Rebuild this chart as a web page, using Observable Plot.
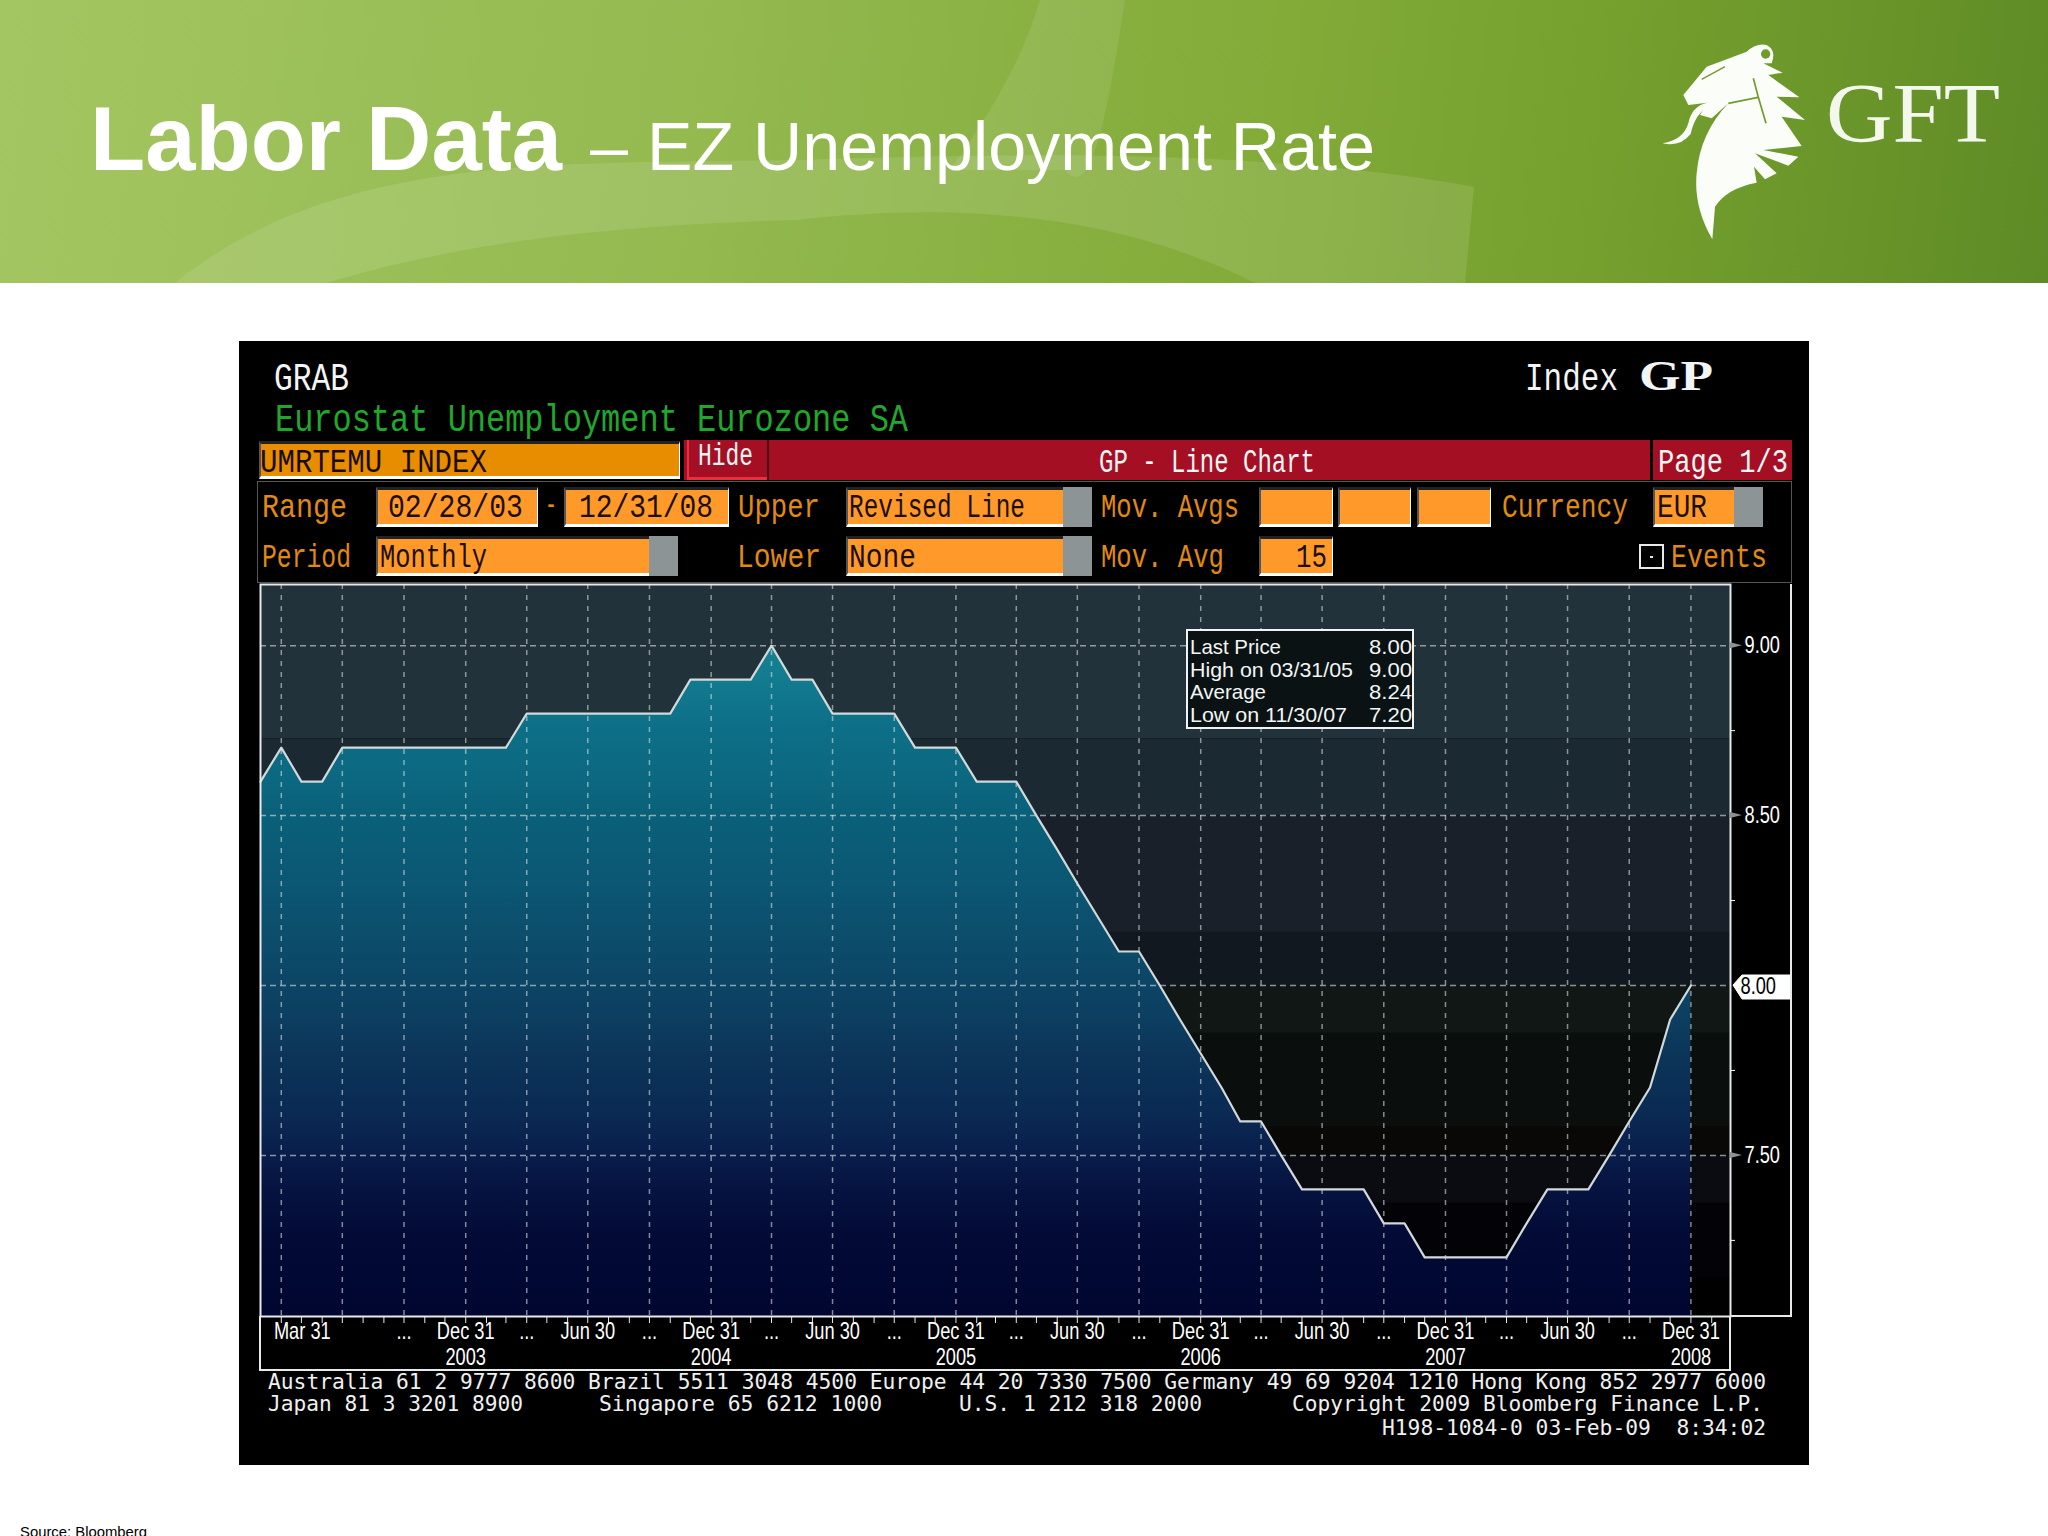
<!DOCTYPE html>
<html><head><meta charset="utf-8">
<script src="https://cdn.jsdelivr.net/npm/d3@7"></script>
<script src="https://cdn.jsdelivr.net/npm/@observablehq/plot@0.6"></script>
<style>
html,body{margin:0;padding:0;background:#fff;width:2048px;height:1536px;overflow:hidden}
#page{position:relative;width:2048px;height:1536px;overflow:hidden}
.box,.lbl{position:absolute;box-sizing:border-box}
.lbl{white-space:pre;transform-origin:0 0}
#chart{position:absolute;left:239px;top:341px}
#chart svg{display:block}
</style></head><body><div id="page"></div>
<script>
// ---- chart data ----
const startMonth = "2003-02";
const unemployment = [8.6,8.7,8.6,8.6,8.7,8.7,8.7,8.7,8.7,8.7,8.7,8.7,8.7,8.8,8.8,8.8,8.8,8.8,8.8,8.8,8.8,8.9,8.9,8.9,8.9,9.0,8.9,8.9,8.8,8.8,8.8,8.8,8.7,8.7,8.7,8.6,8.6,8.6,8.5,8.4,8.3,8.2,8.1,8.1,8.0,7.9,7.8,7.7,7.6,7.6,7.5,7.4,7.4,7.4,7.4,7.3,7.3,7.2,7.2,7.2,7.2,7.2,7.3,7.4,7.4,7.4,7.5,7.6,7.7,7.9,8.0];
const yDomain = [7.026,9.18];
const xEndMonth = "2009-02";
const majorY = [9,8.5,7.5];
const minorY = [8.75,8.25,7.75,7.25];
const lastValue = 8;
const tickLabelMonths = ["2003-09","2003-12","2004-03","2004-06","2004-09","2004-12","2005-03","2005-06","2005-09","2005-12","2006-03","2006-06","2006-09","2006-12","2007-03","2007-06","2007-09","2007-12","2008-03","2008-06","2008-09","2008-12"];
const tickLabels = ["...","Dec 31","...","Jun 30","...","Dec 31","...","Jun 30","...","Dec 31","...","Jun 30","...","Dec 31","...","Jun 30","...","Dec 31","...","Jun 30","...","Dec 31"];
const firstLabel = "Mar 31", firstLabelMonth = "2003-03";
const yearLabels = ["2003","2004","2005","2006","2007","2008"];
// stepped colour bands: upper/lower bound in rate units
const bgTop  = [9.18,8.726,8.5,8.156,8.0,7.859,7.583,7.5,7.359,7.138];
const bgBot  = [8.726,8.5,8.156,8.0,7.859,7.583,7.5,7.359,7.138,7.026];
const bgFill = ["#22323a","#1b2932","#19202a","#12181f","#101715","#0a0f0e","#090807","#0b0b12","#020207","#000000"];
const areaTop  = [9.0,8.9,8.77,8.59,8.5,8.3,8.15,8.01,7.9,7.8,7.62,7.51,7.4,7.25,7.026];
const areaFill = ["#178292","#127b90","#0d7088","#0b677f","#0a6079","#0b5774","#0c4e6c","#0c4565","#0c3e60","#0c3559","#0a2a53","#091e4c","#061340","#020a35","#000630"];
const gridColor = "#d8dedf";
const monthEnd = m => { const [y,mo] = m.split("-").map(Number); return new Date(Date.UTC(y,mo,0)); };
const addMonths = (m,i) => { const [y,mo] = m.split("-").map(Number); return new Date(Date.UTC(y,mo+i,0)); };
const rows = unemployment.map((value,i)=>({date:addMonths(startMonth,i),value}));
const allMonths = d3.range(73).map(i=>addMonths(startMonth,i));
const quarterEnds = allMonths.filter(d=>(d.getUTCMonth()+1)%3===0);
const yearEnds = allMonths.filter(d=>d.getUTCMonth()===11);
const yBase = yDomain[0];

const bands = bgTop.map((t,i)=>({t,b:bgBot[i],f:bgFill[i]}));

function areaGradient(index,{y}){
  const defs = d3.create("svg:defs");
  const g = defs.append("linearGradient").attr("id","areaBands").attr("gradientUnits","userSpaceOnUse")
    .attr("x1",0).attr("x2",0).attr("y1",y(areaTop[0])).attr("y2",y(yBase));
  const off = v => (areaTop[0]-v)/(areaTop[0]-yBase);
  areaTop.forEach((v,i)=>{
    g.append("stop").attr("offset",off(v)).attr("stop-color",areaFill[i]);
  });
  return defs.node();
}
function rightDecor(index,{y},values,{width,height,marginRight,marginBottom,marginLeft}){
  const g = d3.create("svg:g");
  const xr = width-marginRight;
  majorY.forEach(v=>{
    g.append("path").attr("fill","#8d9192")
     .attr("d",`M${xr},${y(v)-3}L${xr+12},${y(v)}L${xr},${y(v)+3}Z`);
  });
  const ly = y(lastValue);
  g.append("path").attr("fill","#fff").attr("stroke","#fff")
   .attr("d",`M${xr+3},${ly}L${xr+12},${ly-10}H${xr+60}V${ly+14}H${xr+12}Z`);
  const base = height-marginBottom;
  g.append("path").attr("fill","none").attr("stroke","#e6eaea").attr("stroke-width",2)
   .attr("d",`M${xr},${base}V${base+54}H${marginLeft}V${base}M${xr},${base}H${xr+61}V${base-732}`);
  return g.node();
}

const narrow = '"Liberation Sans",sans-serif';
const chart = Plot.plot({
  width:1570,height:1124,marginLeft:21,marginRight:79,marginTop:243,marginBottom:149,
  style:{background:"#000",color:"#fff",fontFamily:narrow,overflow:"visible"},
  x:{type:"utc",domain:[monthEnd(startMonth),monthEnd(xEndMonth)]},
  y:{domain:yDomain},
  marks:[
    areaGradient,
    Plot.rectY(bands,{x1:monthEnd(startMonth),x2:monthEnd(xEndMonth),y1:"b",y2:"t",fill:"f"}),
    Plot.areaY(rows,{x:"date",y1:()=>yBase,y2:"value",fill:"url(#areaBands)"}),
    Plot.ruleY([...majorY,lastValue],{stroke:gridColor,strokeOpacity:0.62,strokeWidth:1.5,strokeDasharray:"6,4"}),
    Plot.ruleX(quarterEnds,{stroke:gridColor,strokeOpacity:0.6,strokeWidth:1.5,strokeDasharray:"5,6"}),
    Plot.line(rows,{x:"date",y:"value",stroke:"#d2d9da",strokeWidth:2.2}),
    Plot.frame({stroke:"#e6eaea",strokeWidth:2}),
    Plot.axisX({ticks:allMonths,tickSize:7,tickFormat:()=>"",stroke:"#e6eaea",label:null}),
    Plot.axisY({anchor:"right",ticks:minorY,tickSize:4,tickFormat:()=>"",stroke:"#fff",label:null,tickPadding:0}),
    Plot.axisY({anchor:"right",ticks:majorY,tickSize:0,tickPadding:14,tickFormat:d3.format(".2f"),fontSize:24,fill:"#fff",label:null}),
    rightDecor,
    Plot.text([lastValue],{y:d=>d,text:d=>d3.format(".2f")(d),frameAnchor:"right",textAnchor:"start",dx:10,dy:1,fontSize:24,fill:"#000"}),
    Plot.text(tickLabels,{x:(d,i)=>monthEnd(tickLabelMonths[i]),frameAnchor:"bottom",dy:22,fontSize:24,fill:"#fff"}),
    Plot.text([firstLabel],{x:()=>monthEnd(firstLabelMonth),frameAnchor:"bottom",dy:22,dx:21,fontSize:24,fill:"#fff"}),
    Plot.text(yearLabels,{x:(d,i)=>yearEnds[i],frameAnchor:"bottom",dy:48,fontSize:24,fill:"#fff"})
  ]
});

// ---- page furniture ----
const page = document.getElementById("page");
function box(x,y,w,h,css){const d=document.createElement("div");d.className="box";
  d.style.cssText=`left:${x}px;top:${y}px;width:${w}px;height:${h}px;${css||""}`;page.appendChild(d);return d;}
function txt(s,x,base,w,size,color,font,extra){
  const d=document.createElement("div");d.className="lbl";
  d.style.cssText=`left:${x}px;top:0;font:${extra||""} ${size}px/1 ${font};color:${color}`;
  d.textContent=s;
  const m=document.createElement("span");m.style.cssText="display:inline-block;width:0;height:0;vertical-align:baseline";
  d.appendChild(m);page.appendChild(d);
  const off=m.getBoundingClientRect().bottom-d.getBoundingClientRect().top;
  d.style.top=(base-off)+"px";
  if(w){const cur=d.getBoundingClientRect().width;d.style.transform=`scaleX(${w/cur})`;}
  return d;
}
const mono='"Liberation Mono",monospace', dj='"DejaVu Sans Mono",monospace', sans='"Liberation Sans",Arial,sans-serif', serif='"Liberation Serif",serif';

// banner
box(0,0,2048,283,"background:linear-gradient(97deg,#a4c662 0%,#93b94f 35%,#82ab38 62%,#75a02e 78%,#5f8b26 100%)");
const deco=document.createElement("div");
deco.style.cssText="position:absolute;left:0;top:0;width:2048px;height:283px";
deco.innerHTML=`<div style="position:absolute;inset:0;overflow:hidden">
<svg width="2048" height="283" style="position:absolute;left:0;top:0">
<path d="M1040,0H1125C1105,130 1090,200 1065,170L950,170C1000,100 1025,50 1040,0Z" fill="#fff" opacity=".09"/>
<path d="M175,283C340,150 560,165 800,160C1080,150 1300,155 1474,187L1465,283H1255C1100,205 930,205 796,220C620,225 470,240 326,283Z" fill="#fff" opacity=".11"/>
</svg></div>`;
page.appendChild(deco);
txt("Labor Data",90,170,472,90,"#fff",sans,"bold");
txt("– EZ Unemployment Rate",590,170,785,68,"#fff",sans);
// logo
const logo=document.createElement("div");
logo.style.cssText="position:absolute;left:1600px;top:0;width:448px;height:290px";
logo.innerHTML=`<svg width="448" height="290" viewBox="0 0 1344 870">
<path fill="#fbfdf8" d="M250 285L320 200L440 155Q470 128 500 135Q530 150 515 190L490 190L548 218L505 225L598 292L530 290L615 360L545 350L605 438L490 450L595 470L565 497L465 460L530 520L495 538L462 500L470 548Q380 565 345 620L337 718Q280 620 290 520Q300 400 385 310L335 355L300 345L322 308L265 315Z"/>
<path fill="#fbfdf8" d="M322 308Q275 318 265 370Q250 420 188 430Q240 442 272 402Q285 340 328 318Z"/>
<path fill="none" stroke="#6f9a2c" stroke-width="5" d="M385 310L475 292L460 235M475 292L498 370"/>
<path fill="none" stroke="#6f9a2c" stroke-width="4" d="M305 238L375 200"/>
<circle cx="497" cy="162" r="14" fill="#6f9a2c"/>
</svg>`;
page.appendChild(logo);
txt("GFT",1826,142,174,84,"#f4f7ec",serif);
txt("Source: Bloomberg",20,1537,127,15.5,"#000",sans);

// terminal
const wrap=document.createElement("div");wrap.id="chart";wrap.appendChild(chart);page.appendChild(wrap);
// condense the terminal's axis lettering
chart.querySelectorAll("text").forEach(t=>{
  const len=t.getComputedTextLength();
  if(len>0){t.setAttribute("textLength",len*0.76);t.setAttribute("lengthAdjust","spacingAndGlyphs");}
});
const W="#f2f5f5", O="#e08a12";
txt("GRAB",274,390,75,38,W,mono);
txt("Eurostat Unemployment Eurozone SA",275,431,633,38,"#20a82c",mono);
txt("Index",1525,390,93,38,W,mono);
txt("GP",1639,390,74,42,W,serif,"bold");
const input=(x,y,w,h,fill)=>box(x,y,w,h,`background:${fill};border-top:3px solid #222;border-left:2px solid #555;border-bottom:3px solid #fff;border-right:1px solid #fff`);
box(257,481,1535,102,"border:1px solid #555");
input(259,441,421,38,"#e88c00");
box(684,440,966,40,"background:#a50f24");
box(687,440,80,40,"background:#a50f24;border-bottom:3px solid #e8303f;border-left:2px solid #e8303f");
box(767,440,2,40,"background:#4a0a10");
box(1653,440,139,40,"background:#a50f24");
txt("UMRTEMU INDEX",260,472,227,34,"#1a0d00",mono);
txt("Hide",698,465,55,31,W,mono);
txt("GP - Line Chart",1099,472,216,34,W,mono);
txt("Page 1/3",1658,472,130,34,W,mono);
const OI="#ff9a2a", GR="#8d9496";
[[376,487,162,40],[564,487,165,40],[1259,487,74,40],[1338,487,73,40],[1417,487,74,40],[1259,536,74,40]].forEach(a=>input(...a,OI));
[[846,487,246,40,1063],[846,536,246,40,1063],[376,536,302,40,649],[1653,487,110,40,1734]].forEach(([x,y,w,h,g])=>{input(x,y,w,h,OI);box(g,y,x+w-g,h,`background:${GR}`);});
[["Range",262,517,85],["Upper",738,517,82],["Period",262,567,89],["Lower",737,567,84],["Mov. Avgs",1101,517,138],["Mov. Avg",1101,567,123],["Currency",1502,517,126],["Events",1671,567,96],["-",545,515,12]].forEach(([s,x,b,w])=>txt(s,x,b,w,34,O,mono));
[["02/28/03",388,517,135],["12/31/08",579,517,134],["Revised Line",849,517,176],["Monthly",380,567,107],["None",849,567,67],["15",1296,567,31],["EUR",1657,517,50]].forEach(([s,x,b,w])=>txt(s,x,b,w,34,"#1c0f00",mono));
box(1639,544,25,25,"border:2px solid #e8e8e8");
box(1650,556,3,2,"background:#e8e8e8");

// last-price box
box(1186,629,228,100,"background:#0a1214;border:2px solid #f0f3f3");
[["Last Price",1190,654,91],["High on 03/31/05",1190,677,163],["Average",1190,699,76],["Low on 11/30/07",1190,722,157]].forEach(([s,x,b,w])=>txt(s,x,b,w,21,W,narrow));
[["8.00",1369,654,43],["9.00",1369,677,43],["8.24",1369,699,43],["7.20",1369,722,43]].forEach(([s,x,b,w])=>txt(s,x,b,w,21,W,narrow));

// footer
[["Australia 61 2 9777 8600 Brazil 5511 3048 4500 Europe 44 20 7330 7500 Germany 49 69 9204 1210 Hong Kong 852 2977 6000",268,1389,1498],
 ["Japan 81 3 3201 8900",268,1411,255],["Singapore 65 6212 1000",599,1411,283],["U.S. 1 212 318 2000",959,1411,243],["Copyright 2009 Bloomberg Finance L.P.",1292,1411,471],
 ["H198-1084-0 03-Feb-09  8:34:02",1382,1435,384]].forEach(([s,x,b,w])=>txt(s,x,b,w,21,"#eef0f0",dj));
</script></body></html>
